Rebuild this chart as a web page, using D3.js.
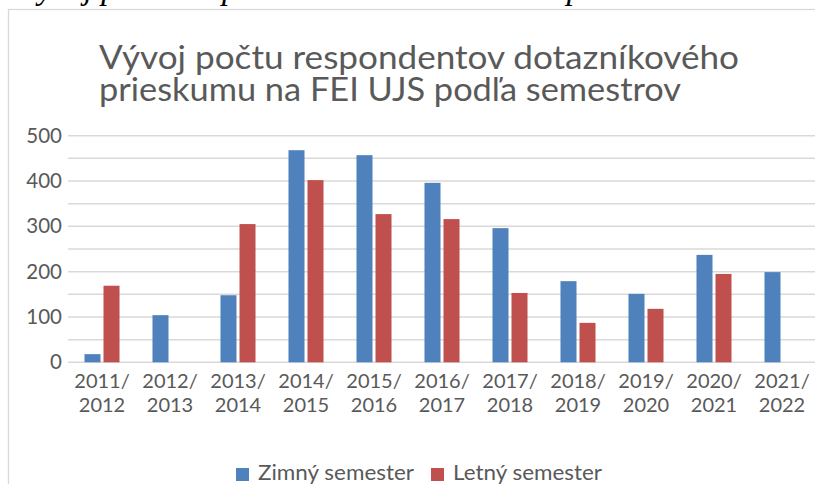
<!DOCTYPE html>
<html>
<head>
<meta charset="utf-8">
<script src="https://cdn.jsdelivr.net/npm/d3@7"></script>
<style>
    body { margin: 0; background: #fff; }
    svg { display: block; }
</style>
</head>
<body>
<script>
// data
const categories = ["2011/2012", "2012/2013", "2013/2014", "2014/2015", "2015/2016", "2016/2017",
    "2017/2018", "2018/2019", "2019/2020", "2020/2021", "2021/2022"];
const zimny = [18, 104, 148, 468, 457, 396, 296, 179, 151, 237, 199];
const letny = [169, null, 305, 402, 327, 316, 153, 87, 118, 195, null];
const seriesNames = ["Zimný semester", "Letný semester"];
const yTicks = [0, 100, 200, 300, 400, 500];
const titleLines = ["Vývoj počtu respondentov dotazníkového", "prieskumu na FEI UJS podľa semestrov"];
const captionText = "Vývoj počtu respondentov dotazníkového prieskumu na FEI UJS";

const width = 815, height = 484;
const colors = ["#4f81bd", "#c0504d"];
const textColor = "#595959";
const font = "Lato, 'Open Sans', sans-serif";

const svg = d3.select("body").append("svg")
    .attr("width", width)
    .attr("height", height);

// caption of the document above the chart, cut off by the screenshot
svg.append("text")
    .attr("x", 18)
    .attr("y", -1)
    .style("font-family", "'Liberation Serif', 'DejaVu Serif', serif")
    .style("font-style", "italic")
    .style("font-size", "33px")
    .style("fill", "#000")
    .text(captionText);

// chart frame (extends past the right and bottom of the picture)
svg.append("rect")
    .attr("x", 8.5)
    .attr("y", 9.5)
    .attr("width", 900)
    .attr("height", 600)
    .style("fill", "#fff")
    .style("stroke", "#d9d9d9")
    .style("stroke-width", 1.3);

// title, squeezed to the narrower widths of the original font
const titleWidths = [640, 582];
titleLines.forEach((t, i) => {
    svg.append("text")
        .attr("x", 99)
        .attr("y", 69 + i * 32)
        .attr("textLength", titleWidths[i])
        .attr("lengthAdjust", "spacingAndGlyphs")
        .style("font-family", font)
        .style("font-size", "32px")
        .style("fill", textColor)
        .text(t);
});

// scales
const x0 = d3.scaleBand()
    .domain(categories)
    .range([68, 816])
    .paddingInner(0.485)
    .paddingOuter(0.2425);

const x1 = d3.scaleBand()
    .domain(seriesNames)
    .range([0, x0.bandwidth()])
    .paddingInner(0.158);

const y = d3.scaleLinear()
    .domain([0, 500])
    .range([362.3, 135.7]);

// gridlines every 50
const grid = svg.append("g");
grid.selectAll("line")
    .data(d3.range(0, 501, 50))
    .enter()
    .append("line")
    .attr("x1", 68)
    .attr("x2", 816)
    .attr("y1", d => y(d))
    .attr("y2", d => y(d))
    .style("stroke", "#d9d9d9")
    .style("stroke-width", 1.5);

// y axis labels
const yAxis = svg.append("g")
    .attr("transform", "translate(68,0)")
    .call(d3.axisLeft(y).tickValues(yTicks).tickSize(0).tickPadding(6));
yAxis.select(".domain").remove();
yAxis.selectAll("text")
    .style("font-family", font)
    .style("font-size", "20.5px")
    .style("fill", textColor);

// x axis labels on two lines
const xAxis = svg.append("g")
    .attr("transform", "translate(0,362.3)")
    .call(d3.axisBottom(x0).tickSize(0).tickFormat(""));
xAxis.select(".domain").remove();
xAxis.selectAll(".tick text").remove();
xAxis.selectAll(".tick").each(function (d) {
    const parts = d.split("/");
    const t = d3.select(this).append("text")
        .attr("text-anchor", "middle")
        .style("font-family", font)
        .style("font-size", "20px")
        .style("fill", textColor);
    t.append("tspan").attr("x", 0).attr("y", 26).text(parts[0] + "/");
    t.append("tspan").attr("x", 0).attr("y", 49.5).text(parts[1]);
});

// bars
const rows = categories.map((c, i) => ({cat: c, values: [zimny[i], letny[i]]}));
const groups = svg.append("g")
    .selectAll("g")
    .data(rows)
    .enter()
    .append("g")
    .attr("transform", d => "translate(" + x0(d.cat) + ",0)");

groups.selectAll("rect")
    .data(d => d.values.map((v, j) => ({name: seriesNames[j], value: v, j: j})).filter(e => e.value != null))
    .enter()
    .append("rect")
    .attr("x", d => x1(d.name))
    .attr("width", x1.bandwidth())
    .attr("y", d => y(d.value))
    .attr("height", d => y(0) - y(d.value))
    .style("fill", d => colors[d.j]);

// legend
const legendX = [236, 431];
const legendWidths = [156, 149];
const legend = svg.append("g");
seriesNames.forEach((name, i) => {
    legend.append("rect")
        .attr("x", legendX[i])
        .attr("y", 468)
        .attr("width", 13)
        .attr("height", 13)
        .style("fill", colors[i]);
    legend.append("text")
        .attr("x", legendX[i] + 22)
        .attr("y", 480)
        .attr("textLength", legendWidths[i])
        .attr("lengthAdjust", "spacingAndGlyphs")
        .style("font-family", font)
        .style("font-size", "22px")
        .style("fill", textColor)
        .text(name);
});
</script>
</body>
</html>
